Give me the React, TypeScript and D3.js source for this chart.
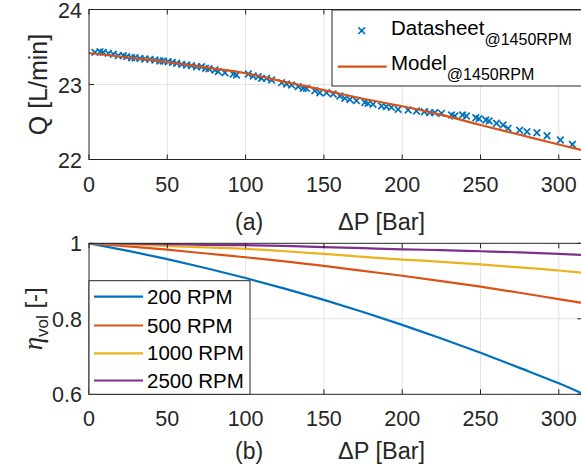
import React from "react";
import * as d3 from "d3";

// ---------- Data ----------
const DS_P = [3.8, 7.0, 9.1, 12.3, 15.5, 18.7, 21.9, 24.0, 27.2, 29.4, 32.5, 35.7, 38.9, 42.1, 45.3, 47.4, 50.6, 53.2, 56.0, 59.2, 62.3, 65.5, 68.7, 71.9, 74.4, 76.6, 80.4, 82.5, 86.8, 92.1, 94.2, 101.7, 104.9, 108.0, 110.2, 113.4, 116.6, 123.0, 126.2, 129.4, 133.6, 136.8, 138.9, 144.2, 147.4, 151.7, 155.9, 160.2, 163.4, 166.6, 170.8, 176.1, 178.2, 181.4, 186.8, 189.9, 193.1, 197.4, 203.8, 209.1, 214.1, 217.6, 220.8, 225.1, 231.5, 233.6, 238.5, 241.0, 247.0, 249.1, 253.4, 255.5, 260.2, 264.4, 267.6, 275.0, 279.7, 286.0, 292.5, 301.0, 308.7];
const DS_Q = [23.429, 23.437, 23.429, 23.416, 23.403, 23.384, 23.384, 23.371, 23.357, 23.357, 23.349, 23.34, 23.336, 23.327, 23.313, 23.313, 23.304, 23.296, 23.283, 23.269, 23.26, 23.251, 23.237, 23.237, 23.216, 23.21, 23.193, 23.171, 23.157, 23.14, 23.127, 23.14, 23.113, 23.104, 23.082, 23.082, 23.06, 23.024, 23.007, 22.993, 22.971, 22.949, 22.949, 22.917, 22.89, 22.89, 22.873, 22.847, 22.816, 22.8, 22.784, 22.76, 22.749, 22.736, 22.713, 22.704, 22.696, 22.669, 22.66, 22.647, 22.637, 22.624, 22.624, 22.616, 22.593, 22.58, 22.593, 22.58, 22.557, 22.544, 22.527, 22.513, 22.483, 22.46, 22.416, 22.39, 22.37, 22.357, 22.317, 22.26, 22.2];

const MODEL_P = [0, 25, 50, 75, 100, 125, 150, 175, 200, 225, 250, 275, 300, 315];
const MODEL_Q = [23.42, 23.36, 23.3, 23.225, 23.15, 23.035, 22.925, 22.81, 22.71, 22.595, 22.46, 22.33, 22.2, 22.125];

const ETA_P = [0, 25, 50, 75, 100, 125, 150, 175, 200, 225, 250, 275, 300, 315];
const ETA_200 = [1.0, 0.98, 0.958, 0.934, 0.908, 0.88, 0.85, 0.818, 0.784, 0.748, 0.71, 0.67, 0.629, 0.602];
const ETA_500 = [1.0, 0.992, 0.983, 0.973, 0.963, 0.952, 0.94, 0.927, 0.914, 0.9, 0.885, 0.869, 0.852, 0.842];
const ETA_1000 = [1.0, 0.997, 0.993, 0.989, 0.985, 0.979, 0.972, 0.964, 0.957, 0.951, 0.944, 0.936, 0.928, 0.922];
const ETA_2500 = [1.0, 0.999, 0.998, 0.996, 0.995, 0.993, 0.99, 0.987, 0.984, 0.982, 0.979, 0.976, 0.972, 0.969];
const SERIES_LABELS = ["200 RPM", "500 RPM", "1000 RPM", "2500 RPM"];
const SERIES_COLORS = ["#0072BD", "#D95319", "#EDB120", "#7E2F8E"];

const X_TICKS = [0, 50, 100, 150, 200, 250, 300];
const Q_TICKS = [22, 23, 24];
const ETA_TICKS = [0.6, 0.8, 1];

// ---------- Layout ----------
const W = 581;
const H = 472;
const LEFT = 89;
const RIGHT = 582.3;
const TOP1 = 9.5, BOT1 = 159.5;
const TOP2 = 243.3, BOT2 = 394.3;
const AX = "#262626";
const GRID = "#e3e3e3";
const FONT = "'Liberation Sans', Arial, Helvetica, sans-serif";

const x = d3.scaleLinear().domain([0, 315]).range([LEFT, RIGHT]);
const y1 = d3.scaleLinear().domain([22, 24]).range([BOT1, TOP1]);
const y2 = d3.scaleLinear().domain([0.6, 1]).range([BOT2, TOP2]);

function Frame({ top, bottom, y, yTicks }: any) {
  return (
    <g>
      {X_TICKS.filter((t) => t > 0).map((t) => (
        <line key={"gx" + t} x1={x(t)} x2={x(t)} y1={top} y2={bottom} stroke={GRID} strokeWidth={1} />
      ))}
      {yTicks.slice(1, -1).map((t: number) => (
        <line key={"gy" + t} x1={LEFT} x2={RIGHT} y1={y(t)} y2={y(t)} stroke={GRID} strokeWidth={1} />
      ))}
    </g>
  );
}

function Axes({ top, bottom, y, yTicks, fmt }: any) {
  const tl = 5;
  return (
    <g>
      <rect x={LEFT} y={top} width={RIGHT - LEFT} height={bottom - top} fill="none" stroke={AX} strokeWidth={1} />
      {X_TICKS.map((t) => (
        <g key={"xt" + t}>
          <line x1={x(t)} x2={x(t)} y1={bottom} y2={bottom - tl} stroke={AX} />
          <line x1={x(t)} x2={x(t)} y1={top} y2={top + tl} stroke={AX} />
          <text x={x(t)} y={bottom + 32} textAnchor="middle" fontSize={21.5} fill={AX} fontFamily={FONT}>
            {t}
          </text>
        </g>
      ))}
      {yTicks.map((t: number) => (
        <g key={"yt" + t}>
          <line x1={LEFT} x2={LEFT + tl} y1={y(t)} y2={y(t)} stroke={AX} />
          <line x1={RIGHT} x2={RIGHT - tl} y1={y(t)} y2={y(t)} stroke={AX} />
          <text x={LEFT - 7} y={y(t) + 8} textAnchor="end" fontSize={21.5} fill={AX} fontFamily={FONT}>
            {fmt(t)}
          </text>
        </g>
      ))}
    </g>
  );
}

export default function App() {
  const modelLine = d3
    .line<number>()
    .x((_, i) => x(MODEL_P[i]))
    .y((d) => y1(d))
    .curve(d3.curveMonotoneX)(MODEL_Q);

  const etaSeries = [ETA_200, ETA_500, ETA_1000, ETA_2500];
  const etaLine = (vals: number[]) =>
    d3
      .line<number>()
      .x((_, i) => x(ETA_P[i]))
      .y((d) => y2(d))
      .curve(d3.curveMonotoneX)(vals);

  const ms = 3.3;
  return (
    <div style={{ position: "fixed", left: 0, top: 0, width: W, height: H, background: "#fff" }}>
      <svg width={W} height={H} style={{ display: "block" }}>
        <defs>
          <clipPath id="c1">
            <rect x={LEFT} y={TOP1} width={RIGHT - LEFT} height={BOT1 - TOP1} />
          </clipPath>
          <clipPath id="c2">
            <rect x={LEFT} y={TOP2} width={RIGHT - LEFT} height={BOT2 - TOP2} />
          </clipPath>
        </defs>
        <rect x={0} y={0} width={W} height={H} fill="#fff" />

        {/* ---------- Top plot ---------- */}
        <Frame top={TOP1} bottom={BOT1} y={y1} yTicks={Q_TICKS} />
        <g clipPath="url(#c1)">
          {DS_P.map((p, i) => (
            <path
              key={"m" + i}
              d={`M${x(p) - ms},${y1(DS_Q[i]) - ms}L${x(p) + ms},${y1(DS_Q[i]) + ms}M${x(p) - ms},${y1(DS_Q[i]) + ms}L${x(p) + ms},${y1(DS_Q[i]) - ms}`}
              stroke="#0072BD"
              strokeWidth={1.7}
              fill="none"
            />
          ))}
          <path d={modelLine || ""} fill="none" stroke="#D95319" strokeWidth={2.2} />
        </g>
        <Axes top={TOP1} bottom={BOT1} y={y1} yTicks={Q_TICKS} fmt={(t: number) => String(t)} />

        {/* top legend */}
        <rect x={332} y={10} width={260} height={76} fill="#fff" stroke={AX} strokeWidth={1} />
        <path
          d={`M${361.7 - ms},${30.7 - ms}L${361.7 + ms},${30.7 + ms}M${361.7 - ms},${30.7 + ms}L${361.7 + ms},${30.7 - ms}`}
          stroke="#0072BD"
          strokeWidth={1.7}
        />
        <text x={391} y={35} fontSize={20.5} fill="#000" fontFamily={FONT}>
          Datasheet
          <tspan fontSize={16} dy={10}>@1450RPM</tspan>
        </text>
        <line x1={337.7} x2={386.7} y1={66.7} y2={66.7} stroke="#D95319" strokeWidth={2.2} />
        <text x={391} y={70} fontSize={20.5} fill="#000" fontFamily={FONT}>
          Model
          <tspan fontSize={16} dy={10}>@1450RPM</tspan>
        </text>

        {/* top labels */}
        <text x={235} y={230} fontSize={23} fill={AX} fontFamily={FONT}>(a)</text>
        <text x={338} y={230} fontSize={23.5} fill={AX} fontFamily={FONT}>ΔP [Bar]</text>
        <text
          transform={`translate(47,${(TOP1 + BOT1) / 2}) rotate(-90)`}
          textAnchor="middle"
          fontSize={25}
          fill={AX}
          fontFamily={FONT}
        >
          Q [L/min]
        </text>

        {/* ---------- Bottom plot ---------- */}
        <Frame top={TOP2} bottom={BOT2} y={y2} yTicks={ETA_TICKS} />
        <g clipPath="url(#c2)">
          {etaSeries.map((s, i) => (
            <path key={"e" + i} d={etaLine(s) || ""} fill="none" stroke={SERIES_COLORS[i]} strokeWidth={2.2} />
          ))}
        </g>
        <Axes top={TOP2} bottom={BOT2} y={y2} yTicks={ETA_TICKS} fmt={(t: number) => String(t)} />

        {/* bottom legend */}
        <rect x={LEFT} y={280.7} width={250 - LEFT} height={BOT2 - 280.7} fill="#fff" stroke={AX} strokeWidth={1} />
        {SERIES_LABELS.map((lab, i) => {
          const ys = [296.7, 325.5, 353.3, 380.5][i];
          return (
            <g key={"l" + i}>
              <line x1={94} x2={143} y1={ys} y2={ys} stroke={SERIES_COLORS[i]} strokeWidth={2.2} />
              <text x={147} y={ys + 7} fontSize={20.5} fill="#000" fontFamily={FONT}>
                {lab}
              </text>
            </g>
          );
        })}

        {/* bottom labels */}
        <text x={235} y={459} fontSize={23} fill={AX} fontFamily={FONT}>(b)</text>
        <text x={338} y={459} fontSize={23.5} fill={AX} fontFamily={FONT}>ΔP [Bar]</text>
        <text
          transform={`translate(42,${(TOP2 + BOT2) / 2}) rotate(-90)`}
          textAnchor="middle"
          fontSize={24}
          fill={AX}
          fontFamily={FONT}
        >
          <tspan fontFamily="'Liberation Serif', 'DejaVu Serif', serif" fontStyle="italic" fontSize={27}>η</tspan>
          <tspan fontSize={17} dy={6}>vol</tspan>
          <tspan dy={-6}> [-]</tspan>
        </text>
      </svg>
    </div>
  );
}
